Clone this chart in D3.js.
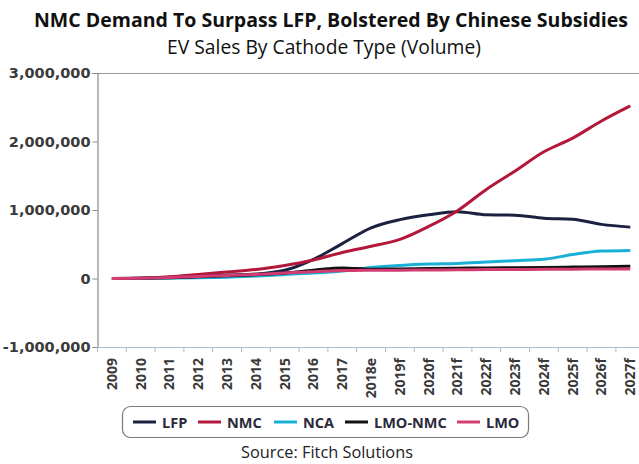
<!DOCTYPE html>
<html><head><meta charset="utf-8">
<script src="https://cdn.jsdelivr.net/npm/d3@7"></script>
<style>
html,body{margin:0;padding:0;background:#fff;}
svg{display:block;}
</style></head>
<body>
<svg id="c" width="639" height="464"></svg>
<script>
const categories = ["2009","2010","2011","2012","2013","2014","2015","2016","2017","2018e","2019f","2020f","2021f","2022f","2023f","2024f","2025f","2026f","2027f"];
const LFP    = [0,5000,20000,35000,50000,65000,120000,280000,510000,740000,860000,930000,975000,930000,925000,880000,865000,790000,750000];
const NMC    = [0,5000,25000,60000,95000,130000,190000,270000,380000,470000,570000,760000,990000,1300000,1570000,1850000,2050000,2300000,2520000];
const NCA    = [0,1000,5000,10000,20000,35000,60000,80000,110000,160000,190000,210000,220000,240000,260000,280000,350000,400000,410000];
const LMO_NMC= [0,2000,10000,25000,40000,55000,80000,120000,155000,135000,140000,145000,150000,155000,158000,162000,167000,172000,180000];
const LMO    = [0,5000,15000,30000,45000,60000,80000,100000,115000,120000,122000,125000,127000,130000,132000,134000,136000,138000,140000];
const yTicks = [-1000000,0,1000000,2000000,3000000];
const yTickLabels = ["-1,000,000","0","1,000,000","2,000,000","3,000,000"];
const seriesNames = ["LFP","NMC","NCA","LMO-NMC","LMO"];
const seriesColors = ["#1b2140","#b3183a","#1ab0d6","#111111","#d23c72"];
const seriesValues = [LFP,NMC,NCA,LMO_NMC,LMO];

const svg = d3.select("#c");
const mLeft = 97.5, mTop = 73, mBottom = 347, bw = 28.8;
const x = d3.scaleBand().domain(categories).range([mLeft, mLeft + bw*categories.length]);
const y = d3.scaleLinear().domain([-1000000,3000000]).range([mBottom, mTop]);

function fitText(sel, target){
  const fs = +sel.attr("font-size");
  const w = sel.node().getComputedTextLength();
  if (w > 0) sel.attr("font-size", (fs*target/w).toFixed(2));
}

// title
const t1 = svg.append("text").attr("x",331).attr("y",27).attr("text-anchor","middle")
  .attr("font-family","Open Sans").attr("font-weight","bold").attr("font-size",17.5).attr("fill","#111")
  .text("NMC Demand To Surpass LFP, Bolstered By Chinese Subsidies");
fitText(t1, 594);
const t2 = svg.append("text").attr("x",324).attr("y",54).attr("text-anchor","middle")
  .attr("font-family","Open Sans").attr("font-size",16).attr("fill","#111")
  .text("EV Sales By Cathode Type (Volume)");
fitText(t2, 314);

// top border
svg.append("line").attr("x1",mLeft).attr("x2",645).attr("y1",mTop+0.5).attr("y2",mTop+0.5)
  .attr("stroke","#9a9a92").attr("stroke-width",1.2);

// y axis
const yAxis = svg.append("g").attr("transform",`translate(${mLeft},0)`)
  .call(d3.axisLeft(y).tickValues(yTicks).tickSize(5).tickFormat((d,i)=>yTickLabels[i]));
yAxis.select(".domain").attr("stroke","#8a8a82").attr("stroke-width",1.2);
yAxis.selectAll(".tick line").attr("stroke","#8a8a82");
yAxis.selectAll("text").attr("font-family","DejaVu Sans").attr("font-weight","bold")
  .attr("font-size",14.5).attr("fill","#3a3a3a").attr("x",-7);

// x axis
const xAxis = svg.append("g").attr("transform",`translate(0,${mBottom})`)
  .call(d3.axisBottom(x).tickSize(0));
xAxis.select(".domain").attr("stroke","#a9bccb").attr("stroke-width",1.2);
xAxis.selectAll("text").attr("font-family","Open Sans").attr("font-weight","bold")
  .attr("font-size",14).attr("fill","#3a3a3a")
  .attr("transform","rotate(-90)").attr("text-anchor","end")
  .attr("x",-11).attr("y",0).attr("dy","0.35em");
// tick marks at band boundaries
svg.append("g").selectAll("line").data(categories).join("line")
  .attr("x1",d=>x(d)).attr("x2",d=>x(d)).attr("y1",mBottom).attr("y2",mBottom+5)
  .attr("stroke","#a9bccb").attr("stroke-width",1);

// lines
const line = d3.line().x((d,i)=>x(categories[i])+x.bandwidth()/2).y(d=>y(d)).curve(d3.curveMonotoneX);
seriesValues.forEach((vals,k)=>{
  svg.append("path").datum(vals).attr("d",line).attr("fill","none")
    .attr("stroke",seriesColors[k]).attr("stroke-width",3).attr("stroke-linejoin","round");
});

// legend
svg.append("rect").attr("x",122.5).attr("y",406.5).attr("width",406).attr("height",31).attr("rx",8)
  .attr("fill","#fff").attr("stroke","#7a7a74").attr("stroke-width",1.2);
const legX = [133,198,274,345,457];
const lg = svg.append("g");
seriesNames.forEach((n,k)=>{
  lg.append("line").attr("x1",legX[k]).attr("x2",legX[k]+23).attr("y1",422).attr("y2",422)
    .attr("stroke",seriesColors[k]).attr("stroke-width",3);
  lg.append("text").attr("x",legX[k]+29).attr("y",427.5).attr("font-family","Open Sans")
    .attr("font-weight","bold").attr("font-size",14.5).attr("fill","#2a2a3a").text(n);
});

const src = svg.append("text").attr("x",327).attr("y",458).attr("text-anchor","middle")
  .attr("font-family","Open Sans").attr("font-size",14).attr("fill","#222")
  .text("Source: Fitch Solutions");
fitText(src, 172);
</script>
</body></html>
